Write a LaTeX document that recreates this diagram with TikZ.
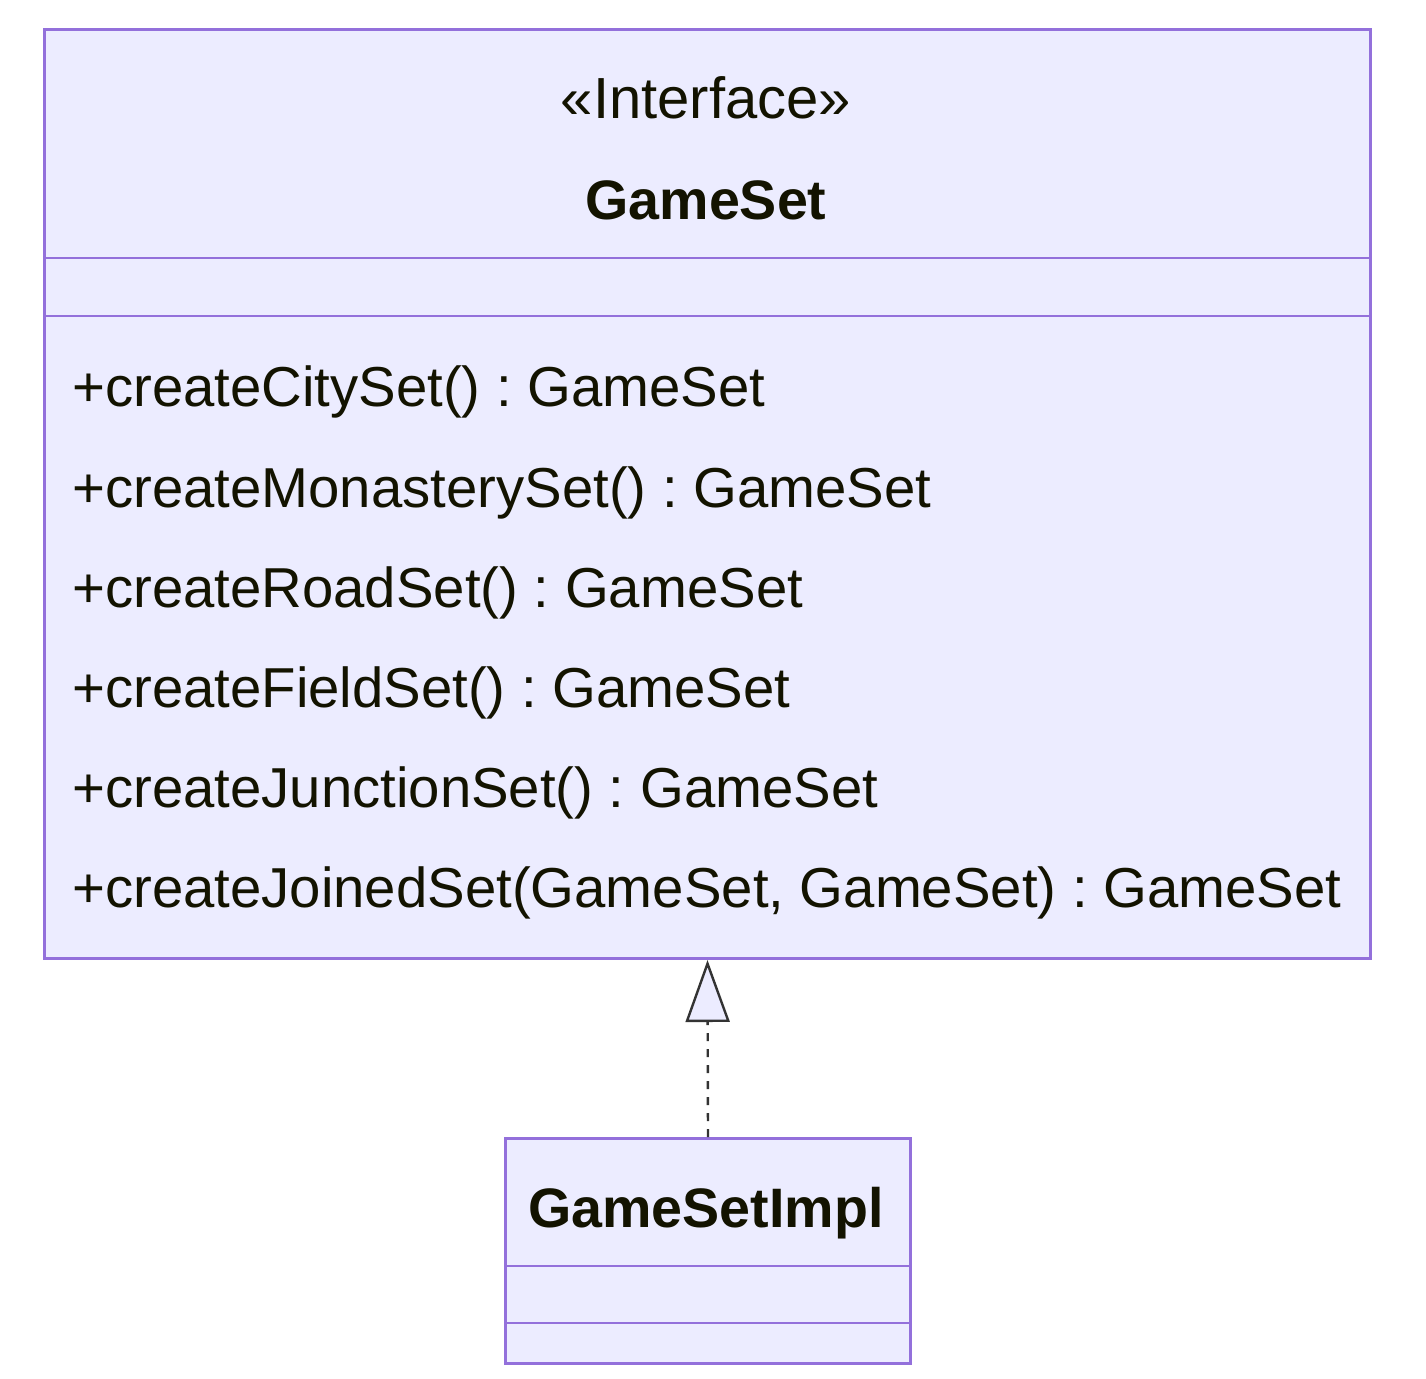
\documentclass[tikz,border=0pt]{standalone}
\usepackage{fontspec}
\setmainfont{Liberation Sans}
\usepackage{tikz}
\usetikzlibrary{arrows.meta, positioning}
\frenchspacing

\begin{document}
\begin{tikzpicture}[x=0.5pt, y=-0.5pt,
  classbox/.style={draw=umlborder, fill=umlfill, line width=1.5pt, inner sep=0pt},
  sepline/.style={draw=umlborder, line width=1pt},
  member/.style={anchor=base west, inner sep=0pt, text=umltext, font=\fontsize{28.15}{33}\selectfont},
  title/.style={anchor=base, inner sep=0pt, text=umltext, font=\fontsize{27.8}{32}\selectfont\bfseries},
  realizes/.style={draw=umlarrow, line width=1.2pt, dash pattern=on 4pt off 4pt,
    -{Triangle[length=31pt, width=22pt, fill=umlfill, line width=1.2pt]}}]
% --- CORES DO DIAGRAMA ---
\definecolor{umlfill}{HTML}{ECECFF}
\definecolor{umlborder}{HTML}{9370DB}
\definecolor{umltext}{HTML}{131300}
\definecolor{umlarrow}{HTML}{333333}

\useasboundingbox (0,0) rectangle (1426,1378);

% LAYER 1: Interface GameSet
\node[classbox, minimum width=663pt, minimum height=464.5pt, anchor=north west] (gameset) at (43,28) {};
\draw[sepline] (43,258) -- (1369,258);
\draw[sepline] (43,316) -- (1369,316);
\node[anchor=base, inner sep=0pt, text=umltext, font=\fontsize{29}{33}\selectfont] (stereo) at (706,118) {«Interface»};
\node[title] (gamesetname) at (706,219) {GameSet};

% LAYER 2: Metodos
\node[member] (m1) at (72,406) {+createCitySet() : GameSet};
\node[member] (m2) at (72,507) {+createMonasterySet() : GameSet};
\node[member] (m3) at (72,607) {+createRoadSet() : GameSet};
\node[member] (m4) at (72,707) {+createFieldSet() : GameSet};
\node[member] (m5) at (72,807) {+createJunctionSet() : GameSet};
\node[member] (m6) at (72,907) {+createJoinedSet(GameSet, GameSet) : GameSet};

% LAYER 3: Classe GameSetImpl
\node[classbox, minimum width=202.5pt, minimum height=112.5pt, anchor=north west] (impl) at (504,1137) {};
\draw[sepline] (504,1266) -- (909,1266);
\draw[sepline] (504,1323) -- (909,1323);
\node[title] (implname) at (706,1227) {GameSetImpl};

% LAYER 4: Realizacao
\draw[realizes] (impl.north) -- (gameset.south);
\end{tikzpicture}
\end{document}
